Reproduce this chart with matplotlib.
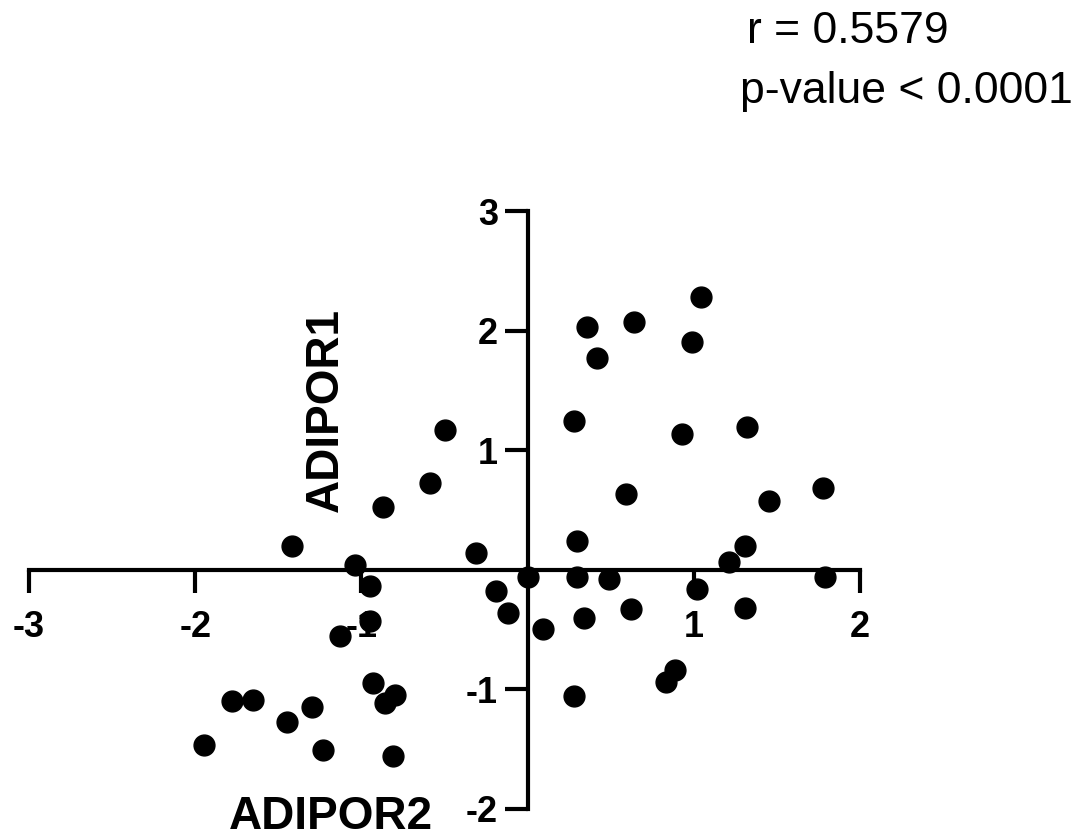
import matplotlib.pyplot as plt

plt.rcParams['font.family'] = ['Liberation Sans', 'DejaVu Sans']

# ADIPOR2 (x) vs ADIPOR1 (y)
adipor2 = [1.045, 0.36, 0.64, 0.42, 0.99, 0.28, 0.93, 1.32, 0.59, 1.45,
           1.78, 0.30, 1.31, 1.21, 0.00, 0.30, 0.49, 1.79, 1.02, 0.62,
           0.34, 1.31, 0.09, 0.885, 0.83, 0.28,
           -0.87, -1.42, -0.31, -1.04, -0.95, -0.19, -0.12, -0.95, -1.13, -0.93,
           -0.80, -0.86, -1.78, -1.65, -1.30, -1.45, -1.95, -1.23, -0.81, -0.59,
           -0.50]
adipor1 = [2.28, 2.03, 2.07, 1.77, 1.90, 1.24, 1.13, 1.19, 0.63, 0.57,
           0.68, 0.24, 0.20, 0.06, -0.06, -0.06, -0.08, -0.06, -0.16, -0.33,
           -0.41, -0.32, -0.50, -0.84, -0.94, -1.06,
           0.52, 0.20, 0.14, 0.04, -0.14, -0.18, -0.36, -0.43, -0.56, -0.95,
           -1.05, -1.12, -1.10, -1.09, -1.15, -1.28, -1.47, -1.51, -1.56, 0.725,
           1.17]

xticks = [-3, -2, -1, 1, 2]
yticks = [-2, -1, 1, 2, 3]

fig = plt.figure(figsize=(10.91, 8.38), dpi=100)
ax = fig.add_axes([29 / 1091, 29.5 / 838, 831 / 1091, 597.5 / 838])

ax.plot(adipor2, adipor1, 'o', color='black', ms=15, clip_on=False, zorder=5)

ax.set_xlim(-3, 2)
ax.set_ylim(-2, 3)
for side in ['top', 'right']:
    ax.spines[side].set_visible(False)
ax.spines['left'].set_position(('data', 0))
ax.spines['bottom'].set_position(('data', 0))
for side in ['left', 'bottom']:
    ax.spines[side].set_linewidth(3)
    ax.spines[side].set_capstyle('projecting')

ax.set_xticks(xticks)
ax.set_yticks(yticks)
ax.set_xticklabels([str(t) for t in xticks])
ax.set_yticklabels([str(t) for t in yticks])
ax.tick_params(axis='both', length=16.5, width=3, labelsize=26, direction='out')
ax.tick_params(axis='x', pad=13)
ax.tick_params(axis='y', pad=5)
for lbl in ax.get_xticklabels() + ax.get_yticklabels():
    lbl.set_fontweight('bold')

fig.text(326 / 1091, 1 - 410 / 838, 'ADIPOR1', rotation=90, fontsize=33,
         fontweight='bold', ha='center', va='center')
fig.text(331 / 1091, 1 - 817 / 838, 'ADIPOR2', fontsize=33,
         fontweight='bold', ha='center', va='center')

fig.text(747 / 1091, 1 - 43 / 838, 'r = 0.5579', fontsize=32, va='baseline')
fig.text(740 / 1091, 1 - 103 / 838, 'p-value < 0.0001', fontsize=32,
         va='baseline')

fig.savefig('out.png', dpi=100)
